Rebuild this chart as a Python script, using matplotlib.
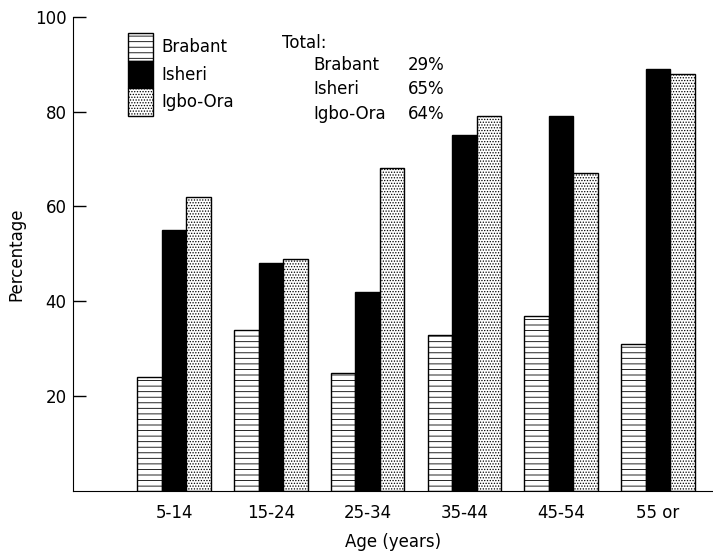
import numpy as np
import matplotlib
matplotlib.use('Agg')
import matplotlib.pyplot as plt
from matplotlib.patches import Patch

ages = ['5-14', '15-24', '25-34', '35-44', '45-54', '55 or']
brabant = [24, 34, 25, 33, 37, 31]
isheri = [55, 48, 42, 75, 79, 89]
igbo_ora = [62, 49, 68, 79, 67, 88]
totals = [('Brabant', '29%'), ('Isheri', '65%'), ('Igbo-Ora', '64%')]

plt.rcParams['font.family'] = 'DejaVu Sans'
plt.rcParams['font.size'] = 12
plt.rcParams['hatch.linewidth'] = 0.6

fig = plt.figure(figsize=(7.13, 5.52), dpi=100)
ax = fig.add_axes([0.103, 0.11, 0.897, 0.86])

x = np.arange(len(ages))
w = 0.253
ax.bar(x - w, brabant, w, color='white', edgecolor='black', hatch='---', linewidth=1)
ax.bar(x, isheri, w, color='black', edgecolor='black', linewidth=1)
ax.bar(x + w, igbo_ora, w, color='white', edgecolor='black', hatch='......', linewidth=1)

ax.set_xlim(-1.04, 5.57)
ax.set_ylim(0, 100)
ax.set_yticks([20, 40, 60, 80, 100])
ax.set_xticks(x)
ax.set_xticklabels(ages)
ax.tick_params(axis='x', length=0, pad=9)
ax.tick_params(axis='y', direction='in', length=9, width=1, pad=5)
ax.spines['top'].set_visible(False)
ax.spines['right'].set_visible(False)
ax.set_ylabel('Percentage', labelpad=7)
ax.set_xlabel('Age (years)', labelpad=8)

# legend swatches stacked into one column box
handles = [Patch(facecolor='white', edgecolor='black', hatch='---'),
           Patch(facecolor='black', edgecolor='black'),
           Patch(facecolor='white', edgecolor='black', hatch='......')]
ax.legend(handles, ['Brabant', 'Isheri', 'Igbo-Ora'], loc='upper left',
          bbox_to_anchor=(0.073, 0.982), frameon=False, borderpad=0,
          labelspacing=0, handlelength=1.45, handleheight=2.15,
          handletextpad=0.5)

fig.text(0.396, 0.922, 'Total:', va='center')
ys = [0.882, 0.838, 0.793]
for (name, pct), yy in zip(totals, ys):
    fig.text(0.439, yy, name, va='center')
    fig.text(0.572, yy, pct, va='center')

fig.savefig('out.png', dpi=100)
